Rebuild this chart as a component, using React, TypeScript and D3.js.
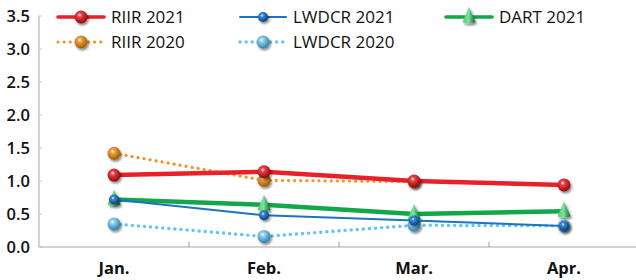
import { useEffect, useRef } from 'react';
import * as d3 from 'd3';

const W = 636;
const H = 280;
const MARGIN = { top: 16, right: -3, bottom: 33, left: 39 };

const months = ['Jan.', 'Feb.', 'Mar.', 'Apr.'];
const yTicks = [0, 0.5, 1, 1.5, 2, 2.5, 3, 3.5];

const riir2021 = [1.09, 1.14, 1.0, 0.94];
const riir2020 = [1.42, 1.01, 0.99];
const lwdcr2021 = [0.72, 0.48, 0.4, 0.32];
const lwdcr2020 = [0.35, 0.16, 0.33, 0.32];
const dart2021 = [0.72, 0.64, 0.5, 0.54];

interface Series {
  key: string;
  name: string;
  values: number[];
  line: string;
  width: number;
  dash?: string;
  marker: 'ball' | 'cone';
  light: string;
  dark: string;
  r: number;
}

// draw order: back to front
const series: Series[] = [
  { key: 'r20', name: 'RIIR 2020', values: riir2020, line: '#f39325', width: 3.2, dash: '0.1 6', marker: 'ball', light: '#f0a040', dark: '#9a5a08', r: 6.5 },
  { key: 'l20', name: 'LWDCR 2020', values: lwdcr2020, line: '#62c6f0', width: 3.4, dash: '0.1 6', marker: 'ball', light: '#8fd0ee', dark: '#2f7fa8', r: 6.5 },
  { key: 'd21', name: 'DART 2021', values: dart2021, line: '#13a64a', width: 4.5, marker: 'cone', light: '#4cc878', dark: '#0a6a2c', r: 7 },
  { key: 'l21', name: 'LWDCR 2021', values: lwdcr2021, line: '#1e72c2', width: 2, marker: 'ball', light: '#3a8ad6', dark: '#083f7c', r: 5 },
  { key: 'r21', name: 'RIIR 2021', values: riir2021, line: '#e8202a', width: 4.5, marker: 'ball', light: '#f04040', dark: '#8a0a10', r: 6.5 },
];

const legendOrder = ['r21', 'l21', 'd21', 'r20', 'l20'];

export default function App() {
  const svgRef = useRef<SVGSVGElement>(null);

  useEffect(() => {
    if (!svgRef.current) return;
    const svg = d3.select(svgRef.current);
    svg.selectAll('*').remove();

    const x = d3.scaleBand().domain(months).range([MARGIN.left, W - MARGIN.right]);
    const y = d3.scaleLinear().domain([0, 3.5]).range([H - MARGIN.bottom, MARGIN.top]);

    const defs = svg.append('defs');
    const shadow = defs.append('filter').attr('id', 'sh').attr('x', '-50%').attr('y', '-50%').attr('width', '200%').attr('height', '200%');
    shadow.append('feDropShadow').attr('dx', 1.5).attr('dy', 2).attr('stdDeviation', 1.2).attr('flood-color', '#000').attr('flood-opacity', 0.45);

    series.forEach((s) => {
      const g = defs.append('radialGradient').attr('id', `g-${s.key}`).attr('cx', '40%').attr('cy', '35%').attr('r', '65%');
      g.append('stop').attr('offset', '0%').attr('stop-color', '#ffffff').attr('stop-opacity', 0.9);
      g.append('stop').attr('offset', '25%').attr('stop-color', s.light);
      g.append('stop').attr('offset', '100%').attr('stop-color', s.dark);
      const lg = defs.append('linearGradient').attr('id', `c-${s.key}`).attr('x1', '0%').attr('x2', '100%');
      lg.append('stop').attr('offset', '0%').attr('stop-color', s.light);
      lg.append('stop').attr('offset', '45%').attr('stop-color', '#7fe0a0');
      lg.append('stop').attr('offset', '100%').attr('stop-color', s.dark);
    });

    // axes
    const axisColor = '#c4c4c4';
    svg.append('line').attr('x1', MARGIN.left).attr('x2', MARGIN.left).attr('y1', y(3.5)).attr('y2', y(0)).attr('stroke', axisColor).attr('stroke-width', 1.5);
    svg.append('line').attr('x1', MARGIN.left).attr('x2', W).attr('y1', y(0)).attr('y2', y(0)).attr('stroke', axisColor).attr('stroke-width', 1.5);
    yTicks.forEach((t) => {
      svg.append('line').attr('x1', MARGIN.left).attr('x2', MARGIN.left + 3).attr('y1', y(t)).attr('y2', y(t)).attr('stroke', axisColor);
      svg.append('text').attr('x', 30).attr('y', y(t)).attr('dy', '0.36em').attr('text-anchor', 'end')
        .attr('font-family', 'Open Sans, sans-serif').attr('font-weight', 600).attr('font-size', 16.5).attr('fill', '#111')
        .text(t.toFixed(1));
    });
    months.forEach((m, i) => {
      if (i > 0) {
        const bx = x(m)!;
        svg.append('line').attr('x1', bx).attr('x2', bx).attr('y1', y(0)).attr('y2', y(0) - 5).attr('stroke', '#999');
      }
      svg.append('text').attr('x', x(m)! + x.bandwidth() / 2).attr('y', 274).attr('text-anchor', 'middle')
        .attr('font-family', 'Open Sans, sans-serif').attr('font-weight', 700).attr('font-size', 16.5).attr('fill', '#111')
        .text(m);
    });

    const cx = (i: number) => x(months[i])! + x.bandwidth() / 2;

    const drawMarker = (g: d3.Selection<SVGGElement, unknown, null, undefined>, s: Series, px: number, py: number) => {
      if (s.marker === 'ball') {
        g.append('circle').attr('cx', px).attr('cy', py).attr('r', s.r).attr('fill', `url(#g-${s.key})`).attr('filter', 'url(#sh)');
      } else {
        const path = `M${px},${py - 10} L${px - 6.5},${py + 5} Q${px},${py + 8} ${px + 6.5},${py + 5} Z`;
        g.append('path').attr('d', path).attr('fill', `url(#c-${s.key})`).attr('filter', 'url(#sh)');
      }
    };

    const line = d3.line<number>().x((_, i) => cx(i)).y((d) => y(d));

    series.forEach((s) => {
      const g = svg.append('g');
      g.append('path').attr('d', line(s.values)!).attr('fill', 'none').attr('stroke', s.line)
        .attr('stroke-width', s.width).attr('stroke-linecap', s.dash ? 'round' : 'butt')
        .attr('stroke-dasharray', s.dash ?? null);
      s.values.forEach((v, i) => drawMarker(g, s, cx(i), y(v)));
    });

    // legend
    const legPos: Record<string, [number, number]> = {
      r21: [58, 17], l21: [240, 17], d21: [446, 17], r20: [58, 42], l20: [240, 42],
    };
    legendOrder.forEach((k) => {
      const s = series.find((d) => d.key === k)!;
      const [lx, ly] = legPos[k];
      const g = svg.append('g');
      g.append('line').attr('x1', lx).attr('x2', lx + 46).attr('y1', ly).attr('y2', ly).attr('stroke', s.line)
        .attr('stroke-width', Math.min(s.width, 3.6)).attr('stroke-linecap', 'round')
        .attr('stroke-dasharray', s.dash ?? null);
      drawMarker(g, s, lx + 23, ly);
      g.append('text').attr('x', lx + 53).attr('y', ly).attr('dy', '0.36em')
        .attr('font-family', 'Open Sans, sans-serif').attr('font-size', 17).attr('fill', '#111')
        .text(s.name);
    });
  }, []);

  return (
    <svg ref={svgRef} width={W} height={H} viewBox={`0 0 ${W} ${H}`}
      style={{ position: 'absolute', left: 0, top: 0, background: '#fff' }} />
  );
}
